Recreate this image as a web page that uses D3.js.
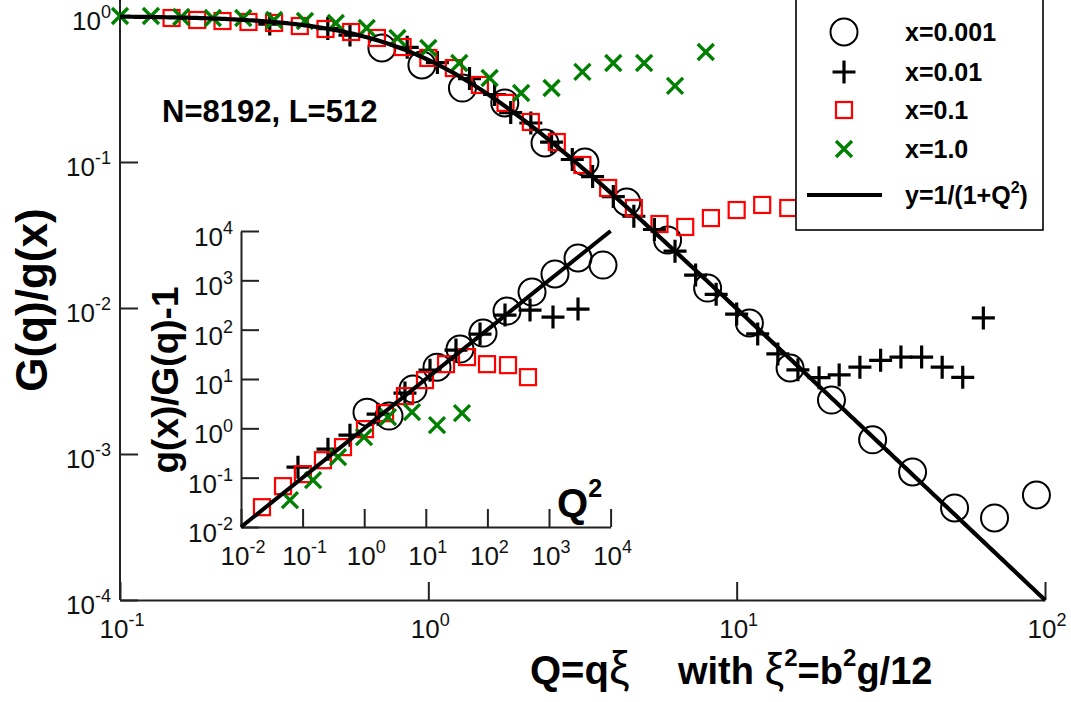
<!DOCTYPE html>
<html>
<head>
<meta charset="utf-8">
<script src="https://cdn.jsdelivr.net/npm/d3@7"></script>
<style>
body { margin: 0; background: #fff; }
svg { display: block; font-family: "Liberation Sans", Arial, sans-serif; }
</style>
</head>
<body>
<svg id="chart" width="1071" height="702"></svg>
<script>
// ---- main panel: Q = q*xi vs G(q)/g(x) ----
const circQ = [0.707, 0.953, 1.29, 1.77, 2.39, 3.22, 4.40, 5.97, 8.05, 11.0, 14.9, 20.3, 27.6, 37.2, 50.9, 68.6, 93.8];
const circG = [0.604, 0.462, 0.321, 0.254, 0.135, 0.100, 0.0532, 0.0292, 0.0137, 0.00789, 0.00388, 0.00234, 0.00125, 0.000753, 0.000427, 0.000365, 0.000524];

const plusQ = [0.306, 0.472, 0.557, 0.854, 1.07, 1.36, 1.64, 1.85, 2.15, 2.51, 2.93, 3.41, 3.98, 4.64, 5.41, 6.31, 7.36, 8.58, 10.0, 11.7, 13.6, 15.8, 18.5, 21.5, 25.1, 29.3, 34.1, 39.8, 46.4, 54.1, 63.1];
const plusG = [0.880, 0.820, 0.740, 0.610, 0.480, 0.373, 0.290, 0.218, 0.185, 0.137, 0.104, 0.0795, 0.0580, 0.0425, 0.0345, 0.0245, 0.0168, 0.0124, 0.00908, 0.00664, 0.00485, 0.00377, 0.00333, 0.00348, 0.00393, 0.00438, 0.00461, 0.00461, 0.00393, 0.00335, 0.00855];

const sqQ = [0.147, 0.178, 0.215, 0.261, 0.316, 0.383, 0.464, 0.562, 0.681, 0.825, 1.0, 1.21, 1.47, 1.78, 2.15, 2.61, 3.16, 3.83, 4.64, 5.62, 6.81, 8.25, 10.0, 12.1, 14.7];
const sqG = [0.969, 0.939, 0.924, 0.910, 0.896, 0.854, 0.815, 0.777, 0.707, 0.613, 0.516, 0.440, 0.337, 0.254, 0.188, 0.137, 0.0954, 0.0664, 0.0484, 0.0376, 0.0359, 0.0413, 0.0469, 0.0508, 0.0484];

const crossQ = [0.10, 0.126, 0.158, 0.20, 0.251, 0.316, 0.398, 0.501, 0.631, 0.794, 1.0, 1.26, 1.58, 2.0, 2.51, 3.16, 3.98, 5.01, 6.31, 7.94];
const crossG = [1.0, 1.0, 0.984, 0.969, 0.969, 0.939, 0.924, 0.896, 0.828, 0.707, 0.604, 0.477, 0.376, 0.297, 0.321, 0.414, 0.477, 0.477, 0.332, 0.567];

// ---- inset: Q^2 vs g(x)/G(q) - 1 ----
const inCircX = [1.11, 2.53, 6.2, 15.2, 35.9, 84.9, 208, 530, 1250, 2958, 7530];
const inCircY = [2.13, 1.77, 6.24, 17.4, 40.4, 85.3, 238, 579, 1343, 2832, 2042];

const inPlusX = [0.0841, 0.258, 0.587, 1.68, 4.59, 11.7, 30.9, 75.9, 193, 492, 1161, 2958];
const inPlusY = [0.163, 0.378, 0.728, 1.94, 5.18, 15.1, 38.5, 81.5, 198, 250, 180, 262];

const inSqX = [0.0219, 0.0481, 0.101, 0.214, 0.453, 1.03, 2.18, 4.59, 9.70, 21.3, 46.7, 98.6, 216, 456];
const inSqY = [0.0252, 0.0673, 0.118, 0.226, 0.416, 0.964, 2.03, 4.50, 9.50, 20.0, 27.8, 20.0, 19.1, 10.9];

const inCrossX = [0.0623, 0.148, 0.376, 0.993, 2.43, 5.97, 15.2, 38.7];
const inCrossY = [0.035, 0.089, 0.261, 0.664, 1.69, 2.13, 1.16, 2.03];

// tick exponents
const mainXExp = [-1, 0, 1, 2];
const mainYExp = [-4, -3, -2, -1, 0];
const inXExp = [-2, -1, 0, 1, 2, 3, 4];
const inYExp = [-2, -1, 0, 1, 2, 3, 4];

const legendLabels = ["x=0.001", "x=0.01", "x=0.1", "x=1.0"];

const svg = d3.select("#chart");
svg.append("rect").attr("width", 1071).attr("height", 702).attr("fill", "#fff");

const x = d3.scaleLog().domain([0.1, 100]).range([120, 1045]);
const y = d3.scaleLog().domain([1e-4, 1]).range([600, 16]);
const ix = d3.scaleLog().domain([1e-2, 1e4]).range([241, 610.6]);
const iy = d3.scaleLog().domain([1e-2, 1e4]).range([527, 231]);

function styleAxis(g) {
    g.selectAll("path, line").attr("stroke", "#222").attr("stroke-width", 2);
}

function powLabel(g, e, xx, yy, anchor, big, small) {
    const t = g.append("text")
        .attr("x", xx).attr("y", yy)
        .attr("text-anchor", anchor)
        .attr("font-size", big)
        .attr("fill", "#111");
    t.append("tspan").text("10");
    t.append("tspan").attr("font-size", small).attr("dy", -big * 0.45).text(e);
}

// main axes
const gx = svg.append("g").attr("transform", "translate(0,600)")
    .call(d3.axisBottom(x).tickValues(mainXExp.map(e => Math.pow(10, e)))
        .tickSizeInner(-18).tickSizeOuter(0).tickFormat(""));
styleAxis(gx);
const gy = svg.append("g").attr("transform", "translate(120,0)")
    .call(d3.axisLeft(y).tickValues(mainYExp.map(e => Math.pow(10, e)))
        .tickSizeInner(-18).tickSizeOuter(0).tickFormat(""));
styleAxis(gy);
gy.select(".domain").attr("d", "M0,600V0");

const labels = svg.append("g");
mainXExp.forEach(e => powLabel(labels, e, x(Math.pow(10, e)) + 2, 638, "middle", 26, 18));
mainYExp.forEach(e => powLabel(labels, e, 111, y(Math.pow(10, e)) + 14, "end", 26, 18));

// inset axes
const igx = svg.append("g").attr("transform", "translate(0,527)")
    .call(d3.axisBottom(ix).tickValues(inXExp.map(e => Math.pow(10, e)))
        .tickSizeInner(-18).tickSizeOuter(0).tickFormat(""));
styleAxis(igx);
const igy = svg.append("g").attr("transform", "translate(241,0)")
    .call(d3.axisLeft(iy).tickValues(inYExp.map(e => Math.pow(10, e)))
        .tickSizeInner(-18).tickSizeOuter(0).tickFormat(""));
styleAxis(igy);
inXExp.forEach(e => powLabel(labels, e, ix(Math.pow(10, e)) + 2, 565, "middle", 26, 18));
inYExp.forEach(e => powLabel(labels, e, 233, iy(Math.pow(10, e)) + 15, "end", 26, 18));

// markers
function marker(g, kind, px, py) {
    if (kind === "circle") {
        g.append("circle").attr("cx", px).attr("cy", py).attr("r", 13.5)
            .attr("fill", "none").attr("stroke", "#000").attr("stroke-width", 2);
    } else if (kind === "plus") {
        g.append("path").attr("d", `M${px - 11.5},${py}H${px + 11.5}M${px},${py - 11.5}V${py + 11.5}`)
            .attr("stroke", "#000").attr("stroke-width", 3.2).attr("fill", "none");
    } else if (kind === "square") {
        g.append("rect").attr("x", px - 8).attr("y", py - 8).attr("width", 16).attr("height", 16)
            .attr("fill", "none").attr("stroke", "#ff0000").attr("stroke-width", 2.2);
    } else {
        g.append("path").attr("d", `M${px - 8},${py - 8}L${px + 8},${py + 8}M${px - 8},${py + 8}L${px + 8},${py - 8}`)
            .attr("stroke", "#008000").attr("stroke-width", 3.4).attr("fill", "none");
    }
}

function series(g, kind, xs, ys, sx, sy) {
    xs.forEach((v, i) => marker(g, kind, sx(v), sy(ys[i])));
}

const marks = svg.append("g");
series(marks, "circle", circQ, circG, x, y);
series(marks, "plus", plusQ, plusG, x, y);
series(marks, "square", sqQ, sqG, x, y);
series(marks, "cross", crossQ, crossG, x, y);

series(marks, "circle", inCircX, inCircY, ix, iy);
series(marks, "plus", inPlusX, inPlusY, ix, iy);
series(marks, "square", inSqX, inSqY, ix, iy);
series(marks, "cross", inCrossX, inCrossY, ix, iy);

// theory curves: y = 1/(1+Q^2) and its inset form y = Q^2
const fitQ = d3.range(0, 301).map(i => Math.pow(10, -1 + i / 100));
svg.append("path")
    .datum(fitQ)
    .attr("d", d3.line().x(q => x(q)).y(q => y(1 / (1 + q * q))))
    .attr("fill", "none").attr("stroke", "#000").attr("stroke-width", 4.2);
const insetLine = [1e-2, 1e4];
svg.append("path")
    .datum(insetLine)
    .attr("d", d3.line().x(v => ix(v)).y(v => iy(v)))
    .attr("fill", "none").attr("stroke", "#000").attr("stroke-width", 4);

// legend
const leg = svg.append("g");
leg.append("rect").attr("x", 796).attr("y", -3).attr("width", 247).attr("height", 233)
    .attr("fill", "#fff").attr("stroke", "#000").attr("stroke-width", 1.6);
const legRows = [32, 72, 110, 149];
["circle", "plus", "square", "cross"].forEach((k, i) => {
    marker(leg, k, 844, legRows[i]);
    leg.append("text").attr("x", 905).attr("y", legRows[i] + 9)
        .attr("font-size", 25).attr("font-weight", "bold").text(legendLabels[i]);
});
leg.append("line").attr("x1", 807).attr("x2", 882).attr("y1", 195).attr("y2", 195)
    .attr("stroke", "#000").attr("stroke-width", 4.2);
const lt = leg.append("text").attr("x", 905).attr("y", 204)
    .attr("font-size", 25).attr("font-weight", "bold");
lt.append("tspan").text("y=1/(1+Q");
lt.append("tspan").attr("font-size", 16).attr("dy", -11).text("2");
lt.append("tspan").attr("dy", 11).text(")");

// annotations
svg.append("text").attr("x", 162).attr("y", 122)
    .attr("font-size", 31).attr("font-weight", "bold").text("N=8192, L=512");

svg.append("text")
    .attr("transform", "translate(47,300) rotate(-90)")
    .attr("text-anchor", "middle").attr("font-size", 44).attr("font-weight", "bold")
    .text("G(q)/g(x)");

svg.append("text")
    .attr("transform", "translate(178,380) rotate(-90)")
    .attr("text-anchor", "middle").attr("font-size", 37).attr("font-weight", "bold")
    .text("g(x)/G(q)-1");

const q2 = svg.append("text").attr("x", 557).attr("y", 517)
    .attr("font-size", 40).attr("font-weight", "bold");
q2.append("tspan").text("Q");
q2.append("tspan").attr("font-size", 25).attr("dy", -20).text("2");

const xt1 = svg.append("text").attr("x", 530).attr("y", 684)
    .attr("font-size", 40).attr("font-weight", "bold");
xt1.append("tspan").text("Q=q");
xt1.append("tspan").attr("font-weight", "normal").attr("font-size", 46).text("ξ");

const xt2 = svg.append("text").attr("x", 678).attr("y", 684)
    .attr("font-size", 38).attr("font-weight", "bold");
xt2.append("tspan").text("with ");
xt2.append("tspan").attr("font-weight", "normal").attr("font-size", 44).text("ξ");
xt2.append("tspan").attr("font-size", 24).attr("dy", -18).text("2");
xt2.append("tspan").attr("dy", 18).text("=b");
xt2.append("tspan").attr("font-size", 24).attr("dy", -18).text("2");
xt2.append("tspan").attr("dy", 18).text("g/12");
</script>
</body>
</html>
